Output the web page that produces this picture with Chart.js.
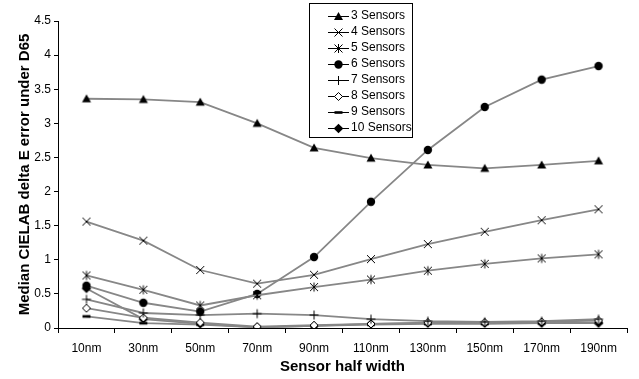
<!DOCTYPE html>
<html>
<head>
<meta charset="utf-8">
<script src="https://cdn.jsdelivr.net/npm/chart.js@4.4.1/dist/chart.umd.min.js"></script>
<style>
html,body{margin:0;padding:0;background:#fff;}
#wrap{width:639px;height:379px;position:relative;}
</style>
</head>
<body>
<div id="wrap"><canvas id="c" width="639" height="379"></canvas></div>
<script>
const categories = ['10nm','30nm','50nm','70nm','90nm','110nm','130nm','150nm','170nm','190nm'];
const seriesNames = ['3 Sensors','4 Sensors','5 Sensors','6 Sensors','7 Sensors','8 Sensors','9 Sensors','10 Sensors'];
const s3  = [3.36, 3.35, 3.31, 3.00, 2.64, 2.49, 2.39, 2.34, 2.39, 2.45];
const s4  = [1.56, 1.28, 0.85, 0.65, 0.78, 1.01, 1.23, 1.41, 1.58, 1.74];
const s5  = [0.77, 0.56, 0.33, 0.48, 0.60, 0.71, 0.84, 0.94, 1.02, 1.08];
const s6  = [0.62, 0.37, 0.24, 0.50, 1.04, 1.85, 2.61, 3.24, 3.64, 3.84];
const s7  = [0.42, 0.22, 0.19, 0.21, 0.19, 0.13, 0.10, 0.09, 0.10, 0.13];
const s8  = [0.29, 0.15, 0.08, 0.02, 0.04, 0.06, 0.08, 0.08, 0.09, 0.11];
const s9  = [0.17, 0.07, 0.05, 0.01, 0.03, 0.05, 0.06, 0.06, 0.07, 0.08];
const s10 = [0.58, 0.13, 0.06, 0.01, 0.03, 0.06, 0.07, 0.07, 0.07, 0.07];
const yTicks = [0, 0.5, 1, 1.5, 2, 2.5, 3, 3.5, 4, 4.5];
const yTickLabels = ['0', '0.5', '1', '1.5', '2', '2.5', '3', '3.5', '4', '4.5'];
const seriesData = [s3, s4, s5, s6, s7, s8, s9, s10];
const markerTypes = ['tri','x','star','circle','plus','diamondOpen','dash','diamond'];

function drawMarker(ctx, type, cx, cy) {
  ctx.save();
  ctx.fillStyle = '#000';
  ctx.strokeStyle = '#000';
  ctx.lineWidth = 1;
  ctx.beginPath();
  switch (type) {
    case 'tri':
      ctx.moveTo(cx, cy - 4.5); ctx.lineTo(cx + 4.5, cy + 3.5); ctx.lineTo(cx - 4.5, cy + 3.5); ctx.closePath(); ctx.fill(); break;
    case 'x':
      ctx.moveTo(cx - 4, cy - 4); ctx.lineTo(cx + 4, cy + 4); ctx.moveTo(cx + 4, cy - 4); ctx.lineTo(cx - 4, cy + 4); ctx.stroke(); break;
    case 'star':
      ctx.moveTo(cx - 4, cy - 4); ctx.lineTo(cx + 4, cy + 4); ctx.moveTo(cx + 4, cy - 4); ctx.lineTo(cx - 4, cy + 4);
      ctx.moveTo(cx, cy - 4.5); ctx.lineTo(cx, cy + 4.5); ctx.stroke(); break;
    case 'circle':
      ctx.arc(cx, cy, 4.2, 0, Math.PI * 2); ctx.fill(); break;
    case 'plus':
      ctx.moveTo(cx - 4.5, cy); ctx.lineTo(cx + 4.5, cy); ctx.moveTo(cx, cy - 4.5); ctx.lineTo(cx, cy + 4.5); ctx.stroke(); break;
    case 'diamondOpen':
      ctx.moveTo(cx, cy - 4); ctx.lineTo(cx + 4, cy); ctx.lineTo(cx, cy + 4); ctx.lineTo(cx - 4, cy); ctx.closePath();
      ctx.fillStyle = '#fff'; ctx.fill(); ctx.stroke(); break;
    case 'dash':
      ctx.fillRect(cx - 4, cy - 1.3, 8, 2.6); break;
    case 'diamond':
      ctx.moveTo(cx, cy - 4.8); ctx.lineTo(cx + 4.8, cy); ctx.lineTo(cx, cy + 4.8); ctx.lineTo(cx - 4.8, cy); ctx.closePath(); ctx.fill(); break;
  }
  ctx.restore();
}

function markerCanvas(type) {
  const cv = document.createElement('canvas');
  cv.width = 12; cv.height = 12;
  drawMarker(cv.getContext('2d'), type, 6, 6);
  return cv;
}

const LINE_COLOR = '#878787';
const datasets = seriesNames.map((name, i) => ({
  label: name,
  data: seriesData[i],
  borderColor: LINE_COLOR,
  backgroundColor: LINE_COLOR,
  borderWidth: 1.8,
  pointStyle: markerCanvas(markerTypes[i]),
  pointRadius: 5,
  pointHoverRadius: 5,
  tension: 0,
  fill: false
}));

const overlay = {
  id: 'overlay',
  afterDraw(chart) {
    const ctx = chart.ctx;
    ctx.save();
    ctx.fillStyle = '#000';
    ctx.font = 'bold 15px "Liberation Sans", Arial, sans-serif';
    ctx.textAlign = 'center';
    ctx.textBaseline = 'middle';
    const ca = chart.chartArea;
    ctx.fillText('Sensor half width', (ca.left + ca.right) / 2, 367);
    ctx.save();
    ctx.translate(25, (ca.top + ca.bottom) / 2);
    ctx.rotate(-Math.PI / 2);
    ctx.fillText('Median CIELAB delta E error under D65', 0, 0);
    ctx.restore();
    const lx = 309.5, ly = 3.5, lw = 103, lh = 134;
    ctx.fillStyle = '#fff';
    ctx.fillRect(lx, ly, lw, lh);
    ctx.strokeStyle = '#000';
    ctx.lineWidth = 1;
    ctx.strokeRect(lx, ly, lw, lh);
    ctx.font = '12px "Liberation Sans", Arial, sans-serif';
    ctx.textAlign = 'left';
    seriesNames.forEach((name, i) => {
      const y = 15.5 + i * 16;
      ctx.strokeStyle = '#000';
      ctx.lineWidth = 1;
      ctx.beginPath();
      ctx.moveTo(328, Math.round(y) + 0.5);
      ctx.lineTo(349, Math.round(y) + 0.5);
      ctx.stroke();
      drawMarker(ctx, markerTypes[i], 338.5, Math.round(y) + 0.5);
      ctx.fillStyle = '#000';
      ctx.fillText(name, 351, y + 0.5);
    });
    ctx.restore();
  }
};

new Chart(document.getElementById('c'), {
  type: 'line',
  data: { labels: categories, datasets },
  options: {
    responsive: false,
    animation: false,
    devicePixelRatio: 1,
    layout: { padding: { top: 21, right: 12, left: 0, bottom: 0 } },
    plugins: { legend: { display: false }, tooltip: { enabled: false } },
    scales: {
      x: {
        type: 'category',
        offset: true,
        grid: { display: true, offset: true, drawOnChartArea: false, drawTicks: true, tickLength: 5, color: '#000' },
        border: { display: true, color: '#000', width: 1 },
        ticks: { color: '#000', font: { family: '"Liberation Sans", Arial, sans-serif', size: 12 }, padding: 8, maxRotation: 0, autoSkip: false },
        afterFit(scale) { scale.height = 51; }
      },
      y: {
        min: 0, max: 4.5,
        afterBuildTicks(scale) { scale.ticks = yTicks.map(v => ({ value: v })); },
        grid: { display: true, drawOnChartArea: false, drawTicks: true, tickLength: 4, color: '#000' },
        border: { display: true, color: '#000', width: 1 },
        ticks: {
          color: '#000', font: { family: '"Liberation Sans", Arial, sans-serif', size: 12 }, padding: 3,
          callback(value) { const i = yTicks.indexOf(value); return i >= 0 ? yTickLabels[i] : String(value); }
        },
        afterFit(scale) { scale.width = 58; }
      }
    }
  },
  plugins: [overlay]
});
</script>
</body>
</html>
